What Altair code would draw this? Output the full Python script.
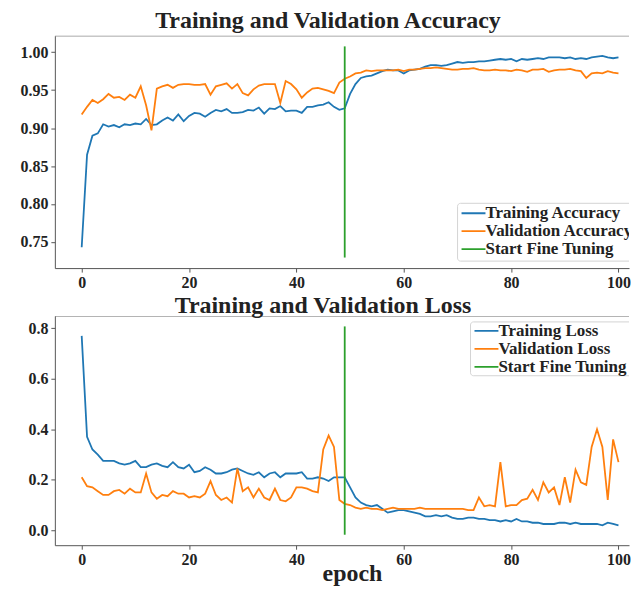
import altair as alt
import pandas as pd

epochs = list(range(101))

train_acc = [
    0.743, 0.865, 0.890, 0.893, 0.905, 0.902, 0.904, 0.901, 0.905, 0.904,
    0.906, 0.905, 0.912, 0.904, 0.905, 0.910, 0.914, 0.910, 0.918, 0.909,
    0.916, 0.920, 0.919, 0.915, 0.920, 0.924, 0.922, 0.925, 0.920, 0.920,
    0.921, 0.924, 0.923, 0.927, 0.919, 0.926, 0.925, 0.929, 0.922, 0.923,
    0.923, 0.920, 0.928, 0.928, 0.930, 0.931, 0.934, 0.928, 0.924, 0.926,
    0.945, 0.958, 0.966, 0.968, 0.969, 0.972, 0.975, 0.977, 0.976, 0.976,
    0.972, 0.976, 0.977, 0.978, 0.981, 0.983, 0.983, 0.982, 0.983, 0.985,
    0.987, 0.986, 0.987, 0.987, 0.988, 0.988, 0.989, 0.990, 0.991, 0.990,
    0.991, 0.988, 0.991, 0.990, 0.991, 0.992, 0.991, 0.993, 0.993, 0.993,
    0.992, 0.993, 0.991, 0.992, 0.991, 0.993, 0.994, 0.995, 0.993, 0.992, 0.993,
]
val_acc = [
    0.918, 0.928, 0.937, 0.933, 0.938, 0.945, 0.940, 0.941, 0.937, 0.944,
    0.940, 0.955, 0.930, 0.897, 0.952, 0.955, 0.957, 0.953, 0.957, 0.958,
    0.958, 0.957, 0.957, 0.958, 0.944, 0.955, 0.957, 0.959, 0.952, 0.958,
    0.946, 0.943, 0.951, 0.956, 0.958, 0.958, 0.958, 0.933, 0.962, 0.958,
    0.951, 0.940, 0.947, 0.952, 0.953, 0.951, 0.949, 0.946, 0.960, 0.965,
    0.968, 0.972, 0.973, 0.976, 0.975, 0.976, 0.976, 0.976, 0.976, 0.977,
    0.975, 0.977, 0.977, 0.978, 0.979, 0.979, 0.980, 0.979, 0.978, 0.977,
    0.977, 0.978, 0.978, 0.979, 0.977, 0.976, 0.976, 0.977, 0.976, 0.976,
    0.975, 0.977, 0.976, 0.974, 0.977, 0.977, 0.978, 0.974, 0.976, 0.977,
    0.977, 0.978, 0.976, 0.975, 0.966, 0.972, 0.973, 0.972, 0.975, 0.973, 0.972,
]
train_loss = [
    0.77, 0.37, 0.32, 0.30, 0.275, 0.275, 0.275, 0.265, 0.26, 0.265,
    0.275, 0.25, 0.25, 0.26, 0.265, 0.255, 0.25, 0.27, 0.25, 0.245,
    0.26, 0.23, 0.235, 0.25, 0.24, 0.225, 0.225, 0.23, 0.24, 0.245,
    0.235, 0.225, 0.22, 0.23, 0.21, 0.225, 0.23, 0.21, 0.225, 0.225,
    0.225, 0.23, 0.205, 0.205, 0.21, 0.205, 0.195, 0.21, 0.21, 0.21,
    0.17, 0.13, 0.11, 0.10, 0.095, 0.10, 0.085, 0.07, 0.075, 0.08,
    0.08, 0.075, 0.07, 0.065, 0.055, 0.055, 0.06, 0.055, 0.06, 0.05,
    0.045, 0.045, 0.05, 0.05, 0.045, 0.045, 0.04, 0.04, 0.035, 0.04,
    0.035, 0.045, 0.035, 0.035, 0.03, 0.03, 0.025, 0.025, 0.025, 0.03,
    0.03, 0.025, 0.03, 0.025, 0.025, 0.025, 0.025, 0.02, 0.03, 0.025, 0.02,
]
val_loss = [
    0.21, 0.175, 0.17, 0.155, 0.14, 0.14, 0.155, 0.16, 0.145, 0.165,
    0.15, 0.15, 0.225, 0.15, 0.125, 0.14, 0.135, 0.155, 0.145, 0.145,
    0.13, 0.135, 0.13, 0.145, 0.195, 0.14, 0.12, 0.13, 0.11, 0.245,
    0.155, 0.17, 0.13, 0.165, 0.13, 0.12, 0.165, 0.12, 0.115, 0.13,
    0.17, 0.17, 0.165, 0.155, 0.15, 0.32, 0.375, 0.33, 0.12, 0.105,
    0.10, 0.09, 0.085, 0.09, 0.085, 0.085, 0.08, 0.085, 0.09, 0.085,
    0.085, 0.085, 0.085, 0.09, 0.085, 0.085, 0.085, 0.085, 0.085, 0.085,
    0.085, 0.085, 0.08, 0.08, 0.13, 0.095, 0.10, 0.095, 0.27, 0.095,
    0.10, 0.10, 0.12, 0.125, 0.16, 0.12, 0.19, 0.15, 0.17, 0.10,
    0.21, 0.11, 0.24, 0.19, 0.18, 0.33, 0.40, 0.33, 0.12, 0.36, 0.27,
]

fine_tune_epoch = 49
acc_vline = [0.7295, 1.0076]
loss_vline = [-0.0175, 0.8075]
acc_domain = [0.7156, 1.0215]
loss_domain = [-0.059, 0.849]

acc_labels = ["Training Accuracy", "Validation Accuracy", "Start Fine Tuning"]
loss_labels = ["Training Loss", "Validation Loss", "Start Fine Tuning"]
colors = ["#1f77b4", "#ff7f0e", "#2ca02c"]
x_ticks = [0, 20, 40, 60, 80, 100]
acc_ticks = [0.75, 0.80, 0.85, 0.90, 0.95, 1.00]
loss_ticks = [0.0, 0.2, 0.4, 0.6, 0.8]

FONT = "Liberation Serif"
W = 576
H1 = 233
H2 = 230
XDOM = [-5, 101.96]
TXT = "#222222"
FRAME = "#555555"
one = pd.DataFrame({"a": [0]})


def x_axis(title=None):
    kw = dict(values=x_ticks, grid=False, domainColor=FRAME, tickColor=FRAME,
              tickSize=4, labelPadding=2, labelFont=FONT, labelFontWeight="bold",
              labelFontSize=16, labelColor=TXT)
    if title:
        kw.update(title=title, titleFont=FONT, titleFontWeight="bold",
                  titleFontSize=24, titleColor=TXT, titlePadding=-6, titleX=298)
    else:
        kw.update(title=None)
    return alt.Axis(**kw)


def y_axis(vals, fmt):
    return alt.Axis(values=vals, format=fmt, grid=False, title=None,
                    domainColor=FRAME, tickColor=FRAME, tickSize=4, labelPadding=3,
                    labelFont=FONT, labelFontWeight="bold", labelFontSize=16,
                    labelColor=TXT, minExtent=47, maxExtent=47)


def panel(s1, s2, labels, vline, ydom, yvals, yfmt, H, title, title_dx, title_off,
          legend_rows, box, legend_x, xtitle=None):
    df = pd.DataFrame({
        "epoch": epochs * 2,
        "value": s1 + s2,
        "series": [labels[0]] * len(epochs) + [labels[1]] * len(epochs),
    })
    cscale = alt.Scale(domain=labels, range=colors)
    lines = alt.Chart(df).mark_line(strokeWidth=1.8, clip=True).encode(
        x=alt.X("epoch:Q", scale=alt.Scale(domain=XDOM, nice=False, zero=False),
                axis=x_axis(xtitle)),
        y=alt.Y("value:Q", scale=alt.Scale(domain=ydom, nice=False, zero=False),
                axis=y_axis(yvals, yfmt)),
        color=alt.Color("series:N", scale=cscale, legend=None),
        detail="series:N",
    )
    vdf = pd.DataFrame({"epoch": [fine_tune_epoch], "y0": [vline[0]], "y1": [vline[1]],
                        "series": [labels[2]]})
    rule = alt.Chart(vdf).mark_rule(strokeWidth=1.8).encode(
        x="epoch:Q", y="y0:Q", y2="y1:Q",
        color=alt.Color("series:N", scale=cscale, legend=None),
    )
    top_frame = alt.Chart(one).mark_rule(color=FRAME, strokeWidth=1, clip=True).encode(
        x=alt.value(0), x2=alt.value(W), y=alt.value(0))
    layers = [lines, rule, top_frame]
    # legend box + entries
    layers.append(alt.Chart(one).mark_rect(fill="white", stroke="#d0d0d0", strokeWidth=1,
                                           cornerRadius=3, opacity=0.9, clip=True).encode(
        x=alt.value(box[0]), x2=alt.value(W + 30), y=alt.value(box[1]), y2=alt.value(box[2])))
    for lab, col, yy in zip(labels, colors, legend_rows):
        layers.append(alt.Chart(one).mark_rule(color=col, strokeWidth=1.8, clip=True).encode(
            x=alt.value(legend_x), x2=alt.value(legend_x + 24), y=alt.value(yy)))
        layers.append(alt.Chart(one).mark_text(
            text=lab, align="left", baseline="middle", font=FONT, fontWeight="bold",
            fontSize=17, color=TXT, clip=True).encode(
            x=alt.value(legend_x + 24), y=alt.value(yy)))
    return alt.layer(*layers).properties(
        width=W, height=H,
        title=alt.TitleParams(title, font=FONT, fontSize=24, fontWeight="bold",
                              color=TXT, anchor="middle", dx=title_dx, offset=title_off),
    )


top = panel(train_acc, val_acc, acc_labels, acc_vline, acc_domain, acc_ticks, ".2f",
            H1, "Training and Validation Accuracy", -14, 3,
            [H1 - 55, H1 - 37, H1 - 19], (404, H1 - 65, H1 - 7), 408)
bottom = panel(train_loss, val_loss, loss_labels, loss_vline, loss_domain, loss_ticks,
               ".1f", H2, "Training and Validation Loss", -19, -2,
               [15, 33, 51], (417, 6, 60), 421, xtitle="epoch")

chart = alt.vconcat(top, bottom, spacing=4).properties(padding=0).configure_view(
    stroke=None)

chart.save("out.html", embed_options={"renderer": "svg", "actions": False})
